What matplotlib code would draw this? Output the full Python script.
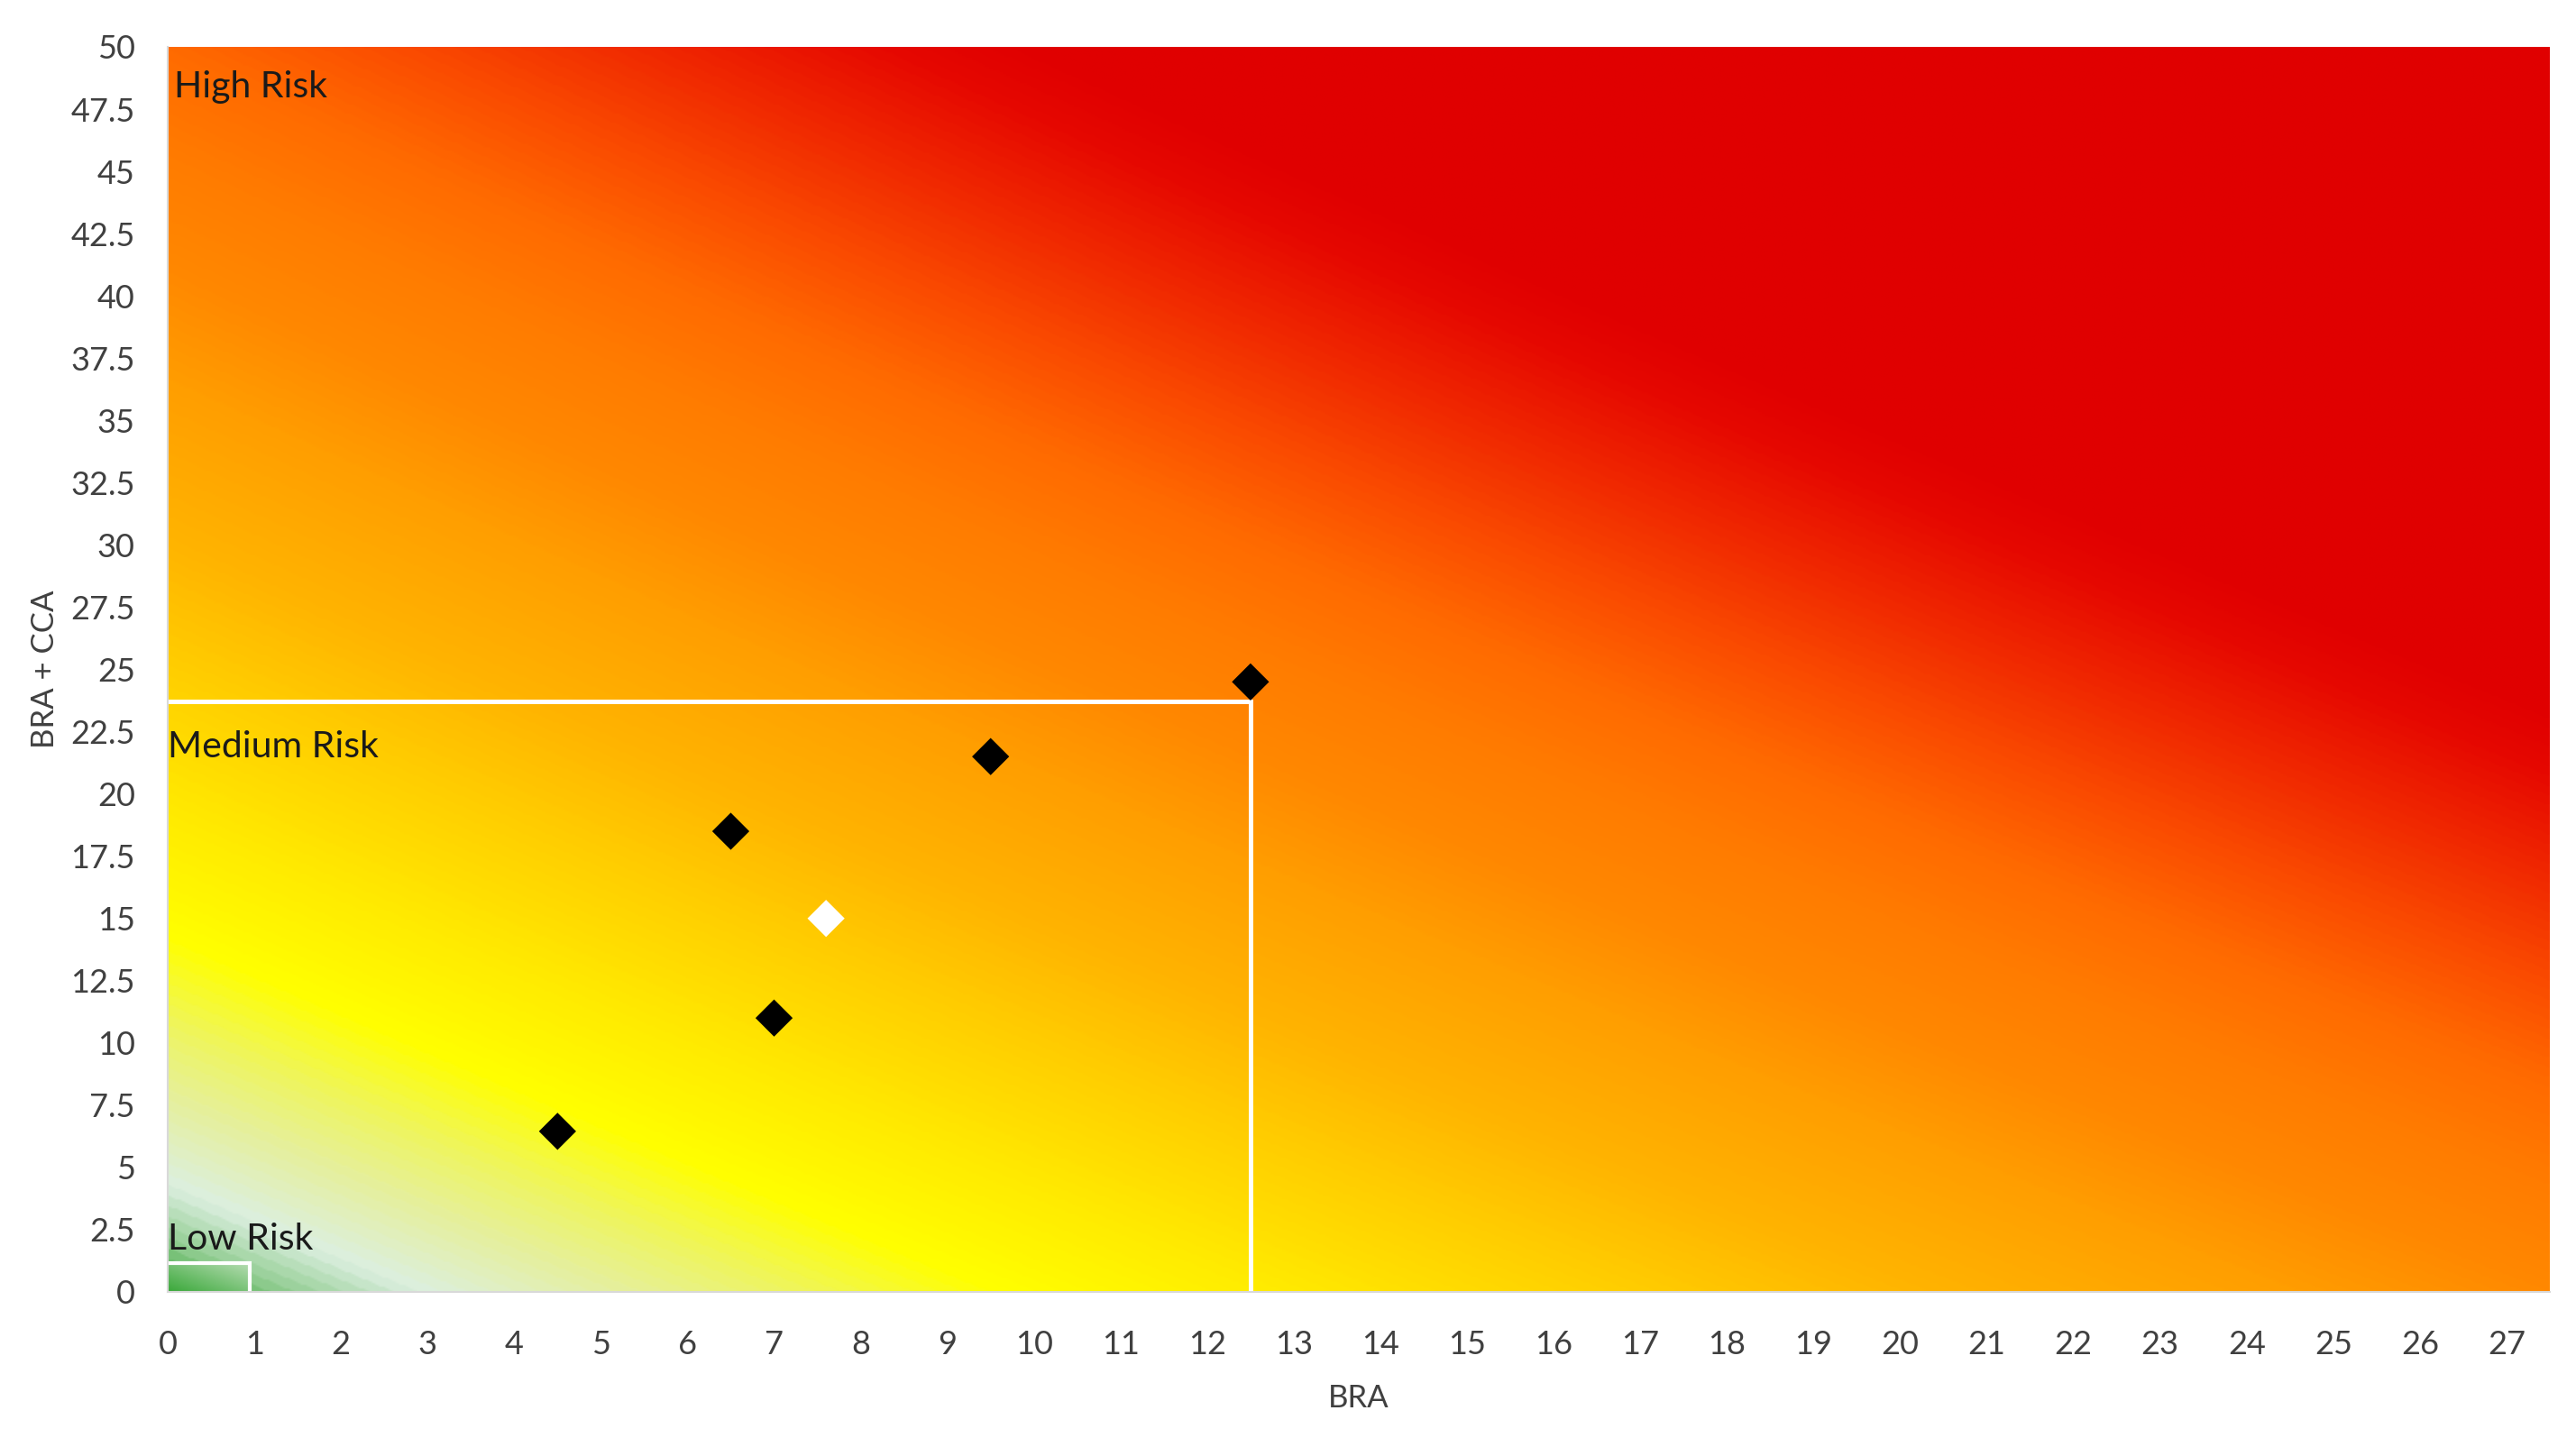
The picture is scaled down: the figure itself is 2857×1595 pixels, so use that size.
import numpy as np
import matplotlib
matplotlib.use("Agg")
import matplotlib.pyplot as plt
from matplotlib.colors import LinearSegmentedColormap

# ---------------- data ----------------
bra = [12.5, 9.5, 6.5, 7.6, 7.0, 4.5]
bra_cca = [24.5, 21.5, 18.5, 15.0, 11.0, 6.45]
point_colors = ["black", "black", "black", "white", "black", "black"]

x_ticks = list(range(0, 28))
y_ticks = [0, 2.5, 5, 7.5, 10, 12.5, 15, 17.5, 20, 22.5, 25, 27.5, 30,
           32.5, 35, 37.5, 40, 42.5, 45, 47.5, 50]
y_tick_labels = ["0", "2.5", "5", "7.5", "10", "12.5", "15", "17.5", "20",
                 "22.5", "25", "27.5", "30", "32.5", "35", "37.5", "40",
                 "42.5", "45", "47.5", "50"]

zone_labels = ["High Risk", "Medium Risk", "Low Risk"]

X_MAX, Y_MAX = 27.5, 50
MED_BRA_MAX, MED_SUM_MAX = 12.5, 23.7
LOW_BRA_MAX, LOW_SUM_MAX = 0.95, 1.17

# background gradient stops (position along gradient, colour)
grad_stops = [
    (0.000, "#3aa63a"), (0.020, "#92cd92"), (0.045, "#dcefe0"),
    (0.085, "#e6f09a"), (0.115, "#eef560"), (0.155, "#ffff00"),
    (0.205, "#ffec00"), (0.270, "#ffd000"), (0.330, "#ffb400"),
    (0.400, "#ff9e00"), (0.450, "#ff8800"), (0.500, "#ff7c00"),
    (0.550, "#ff6a00"), (0.600, "#fa4a00"), (0.650, "#f02800"),
    (0.700, "#e60800"), (0.730, "#e00000"), (1.200, "#e00000"),
]
low_stops = [(0.0, "#3aa83a"), (1.0, "#b8ddb4")]

plt.rcParams["font.family"] = ["Lato", "DejaVu Sans"]

fig = plt.figure(figsize=(28.57, 15.95), dpi=100)
ax = fig.add_axes([186 / 2857, 1 - 1433 / 1595, (2828 - 186) / 2857,
                   (1433 - 52) / 1595])

# background gradient
N = 700
uu, vv = np.meshgrid(np.linspace(0, 1, N), np.linspace(0, 1, N))
tt = (0.45 * uu + 0.55 * vv + 0.05 * uu * vv) / 1.2
cmap = LinearSegmentedColormap.from_list(
    "risk", [(p / 1.2, c) for p, c in grad_stops])
ax.imshow(cmap(tt), extent=[0, X_MAX, 0, Y_MAX], origin="lower",
          aspect="auto", interpolation="bilinear", zorder=0)

# low risk box gradient
lu, lv = np.meshgrid(np.linspace(0, 1, 60), np.linspace(0, 1, 60))
lcmap = LinearSegmentedColormap.from_list("low", low_stops)
ax.imshow(lcmap((lu + lv) / 2), extent=[0, LOW_BRA_MAX, 0, LOW_SUM_MAX],
          origin="lower", aspect="auto", interpolation="bilinear", zorder=1)

# zone borders
ax.plot([0, MED_BRA_MAX, MED_BRA_MAX], [MED_SUM_MAX, MED_SUM_MAX, 0],
        color="white", lw=3.6, solid_joinstyle="miter", zorder=2)
ax.plot([0, LOW_BRA_MAX, LOW_BRA_MAX], [LOW_SUM_MAX, LOW_SUM_MAX, 0],
        color="white", lw=3.0, solid_joinstyle="miter", zorder=2)

# points
ax.scatter(bra, bra_cca, marker="D", s=21 ** 2, c=point_colors,
           edgecolors="none", zorder=5)

# zone labels
ax.text(0.07, 48.4, zone_labels[0], ha="left", va="center", fontsize=29.5,
        color="#1a1a1a", zorder=6)
ax.text(0.0, 21.9, zone_labels[1], ha="left", va="center", fontsize=29.5,
        color="#1a1a1a", zorder=6)
ax.text(0.0, 2.1, zone_labels[2], ha="left", va="center", fontsize=29.5,
        color="#1a1a1a", zorder=6)

ax.set_xlim(0, X_MAX)
ax.set_ylim(0, Y_MAX)
ax.set_xticks(x_ticks)
ax.set_yticks(y_ticks)
ax.set_yticklabels(y_tick_labels)
ax.tick_params(length=0, labelsize=26, labelcolor="#404040")
ax.tick_params(axis="x", pad=30)
ax.tick_params(axis="y", pad=26)

for s in ["top", "right"]:
    ax.spines[s].set_visible(False)
for s in ["left", "bottom"]:
    ax.spines[s].set_color("#d9d9d9")
    ax.spines[s].set_linewidth(1.5)

ax.set_xlabel("BRA", fontsize=25, color="#404040", labelpad=19.5)
ax.set_ylabel("BRA + CCA", fontsize=25, color="#404040", labelpad=9)

fig.savefig("out.png", dpi=100)
